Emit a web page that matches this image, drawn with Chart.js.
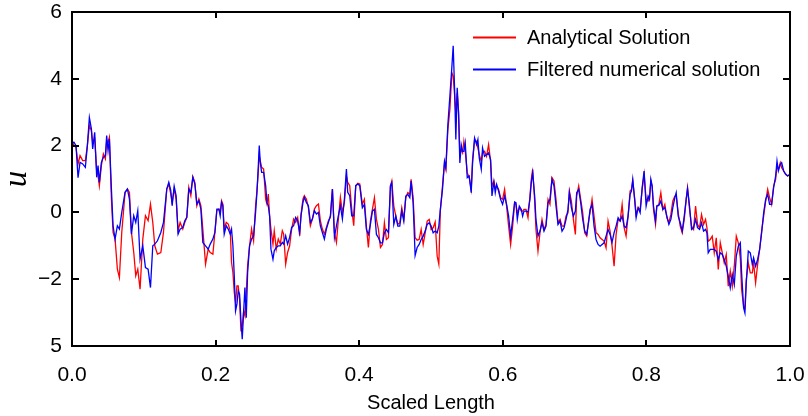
<!DOCTYPE html>
<html>
<head>
<meta charset="utf-8">
<script src="https://cdn.jsdelivr.net/npm/chart.js@4.4.1/dist/chart.umd.min.js"></script>
<style>
  html, body { margin: 0; padding: 0; background: #ffffff; }
  canvas { display: block; }
</style>
</head>
<body>
<canvas id="c" width="808" height="416"></canvas>
<script>
const xValues = [
  0.0000,0.0028,0.0056,0.0084,0.0112,0.0149,0.0186,0.0214,0.0242,0.0270,0.0288,0.0316,0.0344,0.0363,0.0381,0.0409,0.0437,0.0465,0.0483,0.0502,0.0521,0.0549,0.0572,0.0600,0.0632,0.0660,0.0693,0.0739,0.0772,0.0800,0.0828,0.0860,0.0888,0.0916,0.0948,0.0986,0.1023,0.1060,0.1093,0.1125,0.1153,0.1190,0.1237,0.1274,0.1320,0.1348,0.1376,0.1395,0.1423,0.1450,0.1478,0.1506,0.1543,0.1571,0.1599,0.1627,0.1655,0.1683,0.1711,0.1739,0.1767,0.1795,0.1822,0.1860,0.1897,0.1925,0.1962,0.1990,
  0.2018,0.2046,0.2064,0.2083,0.2101,0.2120,0.2148,0.2176,0.2204,0.2222,0.2241,0.2260,0.2278,0.2297,0.2315,0.2334,0.2352,0.2371,0.2390,0.2408,0.2427,0.2446,0.2473,0.2501,0.2529,0.2557,0.2576,0.2594,0.2608,0.2622,0.2641,0.2669,0.2697,0.2715,0.2734,0.2752,0.2771,0.2799,0.2817,0.2845,0.2873,0.2901,0.2929,0.2948,0.2976,0.3003,0.3031,0.3059,0.3087,0.3115,0.3143,0.3171,0.3190,0.3217,0.3236,0.3264,0.3292,0.3320,0.3348,0.3376,0.3404,0.3432,0.3459,0.3487,0.3515,0.3543,0.3571,0.3599,0.3627,0.3655,0.3683,0.3710,0.3738,0.3766,0.3794,0.3822,0.3840,0.3868,0.3896,0.3924,0.3952,0.3980,0.4008,
  0.4044,0.4072,0.4100,0.4128,0.4156,0.4184,0.4212,0.4240,0.4268,0.4296,0.4324,0.4351,0.4379,0.4407,0.4435,0.4454,0.4482,0.4510,0.4538,0.4565,0.4593,0.4621,0.4649,0.4677,0.4705,0.4723,0.4751,0.4779,0.4807,0.4835,0.4863,0.4891,0.4919,0.4947,0.4975,0.5002,0.5030,0.5058,0.5086,0.5109,0.5130,0.5160,0.5188,0.5207,0.5235,0.5263,0.5291,0.5309,0.5328,0.5346,0.5365,0.5384,0.5402,0.5421,0.5440,0.5458,0.5477,0.5505,0.5532,0.5560,0.5579,0.5607,0.5635,0.5653,0.5672,0.5700,0.5718,0.5746,0.5774,0.5802,0.5830,0.5849,0.5876,0.5895,0.5914,0.5941,0.5969,0.5997,0.6025,
  0.6053,0.6081,0.6109,0.6137,0.6165,0.6183,0.6202,0.6230,0.6258,0.6276,0.6295,0.6323,0.6351,0.6378,0.6397,0.6416,0.6444,0.6462,0.6490,0.6518,0.6546,0.6574,0.6602,0.6630,0.6657,0.6685,0.6713,0.6741,0.6769,0.6797,0.6825,0.6853,0.6881,0.6908,0.6927,0.6955,0.6983,0.7011,0.7029,0.7057,0.7085,0.7113,0.7141,0.7169,0.7197,0.7215,0.7243,0.7271,0.7299,0.7327,0.7355,0.7383,0.7411,0.7438,0.7466,0.7494,0.7522,0.7550,0.7578,0.7606,0.7634,0.7662,0.7690,0.7717,0.7745,0.7773,0.7792,0.7810,0.7838,0.7857,0.7885,0.7913,0.7941,0.7968,0.7996,0.8024,
  0.8043,0.8062,0.8080,0.8099,0.8127,0.8145,0.8173,0.8201,0.8229,0.8257,0.8285,0.8313,0.8341,0.8368,0.8396,0.8415,0.8443,0.8471,0.8499,0.8527,0.8554,0.8573,0.8601,0.8629,0.8657,0.8685,0.8712,0.8740,0.8768,0.8796,0.8824,0.8843,0.8861,0.8889,0.8917,0.8945,0.8973,0.9001,0.9029,0.9057,0.9084,0.9112,0.9140,0.9168,0.9196,0.9224,0.9252,0.9280,0.9308,0.9326,0.9354,0.9372,0.9391,0.9419,0.9447,0.9475,0.9493,0.9521,0.9549,0.9577,0.9605,0.9633,0.9661,0.9689,0.9716,0.9744,0.9772,0.9800,0.9819,0.9838,0.9865,0.9884,0.9912,0.9940,0.9967,1.0000
];

const analytical = [
  2.15,2.0,1.95,1.45,1.7,1.55,1.55,2.0,2.6,2.45,2.1,2.2,1.25,1.1,0.8,1.4,1.75,1.6,2.15,2.1,2.25,0.4,-0.6,-0.8,-1.7,-1.95,-0.6,0.6,0.7,0.6,-0.6,-1.2,-1.9,-1.7,-2.3,-0.8,-0.1,-0.25,0.25,-0.3,-1.0,-1.25,-1.2,-0.6,0.7,0.85,0.55,0.3,0.7,0.4,-0.55,-0.3,-0.5,-0.3,-0.15,0.75,0.5,1.07,0.9,0.2,0.4,0.2,-0.5,-1.55,-1.1,-1.2,-1.25,-0.6,
  0.07,0.1,0.0,0.35,0.25,-0.5,-0.3,-0.35,-0.55,-1.5,-1.8,-2.4,-2.7,-2.2,-2.2,-2.6,-3.5,-3.4,-2.95,-3.1,-2.4,-1.6,-1.0,-0.5,-0.85,0.2,0.65,1.2,1.7,1.55,1.35,1.3,0.4,0.25,0.55,-0.1,-0.5,-0.95,-0.55,-1.1,-0.8,-0.95,-0.55,-0.65,-1.55,-1.2,-1.0,-0.5,-0.2,-0.3,-0.15,-0.7,-0.05,0.4,0.5,0.4,0.15,-0.4,-0.2,0.1,0.2,0.25,-0.25,-0.5,-0.65,-0.45,-0.25,-0.15,0.7,-0.6,-0.9,-0.2,0.45,0.0,0.3,1.1,0.9,0.8,0.1,-0.4,0.8,0.87,0.85,
  0.24,0.39,-0.41,-1.05,-0.26,0.09,0.44,-0.21,-0.51,-1.05,-0.96,-0.31,-0.81,-0.76,0.79,0.94,0.19,-0.11,-0.36,-0.31,0.14,-0.21,0.44,0.59,0.54,0.99,0.44,-0.76,-0.83,-0.81,-0.51,-0.96,-0.61,-0.26,-0.21,-0.51,-0.46,-0.29,-1.31,-1.55,0.04,0.79,1.48,1.29,2.48,3.08,4.18,4.08,3.53,2.98,3.58,3.03,1.73,1.88,1.78,2.13,1.83,1.19,1.04,0.69,1.58,2.18,2.13,1.93,1.73,1.53,1.78,1.83,1.68,2.03,1.53,0.79,0.94,0.74,0.79,0.69,0.44,0.39,0.69,
  0.19,-0.41,-0.96,-0.41,0.29,0.24,-0.01,0.14,0.04,0.04,0.09,0.09,-0.16,0.49,0.99,1.29,0.34,-0.51,-1.16,-0.61,-0.21,-0.51,-0.36,0.39,0.24,1.04,0.94,0.39,-0.31,-0.21,-0.41,-0.41,-0.11,-0.01,0.64,0.34,-0.21,-0.66,0.49,0.79,0.39,-0.01,-0.61,-0.71,-0.21,-0.01,0.39,-0.11,-0.61,-0.66,-0.76,-0.81,-0.86,-1.06,-0.26,-0.56,-1.01,-1.61,-0.66,-0.21,-0.26,0.24,-0.46,-0.71,-0.11,0.64,0.69,0.94,0.39,-0.06,0.14,0.09,0.69,1.14,0.39,0.34,
  0.44,0.94,0.79,0.09,-0.36,0.19,0.24,0.59,0.09,0.24,-0.16,-0.31,-0.06,0.34,0.49,0.49,-0.01,-0.41,-0.61,-0.21,0.39,0.74,0.09,-0.41,-0.51,0.19,-0.36,-0.46,-0.06,-0.36,-0.21,-0.46,-0.86,-0.81,-0.71,-1.21,-0.76,-1.71,-0.91,-1.21,-1.51,-1.26,-2.21,-1.76,-2.21,-1.61,-0.71,-0.91,-1.36,-2.31,-2.81,-2.86,-2.01,-1.51,-1.81,-1.81,-1.51,-2.11,-1.56,-1.11,-0.56,-0.11,0.34,0.69,0.44,0.24,0.79,0.99,1.39,1.29,1.49,1.34,1.24,1.14,1.09,1.14
];

const filtered = [
  2.09,2.1,2.0,1.04,1.5,1.45,1.35,2.0,2.84,2.5,1.9,2.4,1.05,1.4,0.9,1.5,1.65,1.7,2.3,1.85,2.2,0.7,-0.4,-0.8,-0.4,-0.5,0.0,0.6,0.7,0.4,-0.65,-0.1,-0.3,0.05,-1.4,-1.0,-1.65,-1.7,-2.25,-1.0,-0.95,-0.85,-0.6,-0.3,0.7,0.9,0.65,0.2,0.78,0.5,-0.65,-0.5,-0.45,-0.25,-0.15,0.7,0.6,1.05,0.85,0.25,0.35,0.1,-0.9,-1.0,-1.1,-0.95,-0.8,-0.6,
  0.1,0.1,-0.1,0.3,0.2,-0.65,-0.4,-0.5,-0.65,-0.5,-1.0,-1.9,-2.95,-2.75,-2.35,-2.45,-3.2,-3.8,-3.0,-2.25,-3.15,-1.8,-1.0,-0.8,-0.7,0.0,0.6,1.35,2.0,1.5,1.2,1.2,0.8,0.3,0.2,-0.1,-1.1,-1.4,-1.15,-1.05,-1.0,-1.0,-0.9,-0.95,-0.7,-0.95,-0.75,-0.45,-0.4,-0.15,-0.25,-0.6,-0.1,0.3,0.45,0.3,0.2,-0.3,-0.2,0.05,-0.05,0.0,-0.4,-0.6,-0.8,-0.5,-0.3,-0.1,0.7,-0.75,-0.4,-0.1,0.2,-0.2,0.4,1.3,0.6,0.5,-0.1,-0.1,0.8,0.85,0.8,
  0.14,0.24,-0.51,-0.66,-0.36,0.04,0.09,-0.66,-0.76,-0.91,-0.91,-0.61,-0.51,-0.61,0.79,0.89,-0.36,-0.11,-0.41,-0.41,0.04,-0.26,0.49,0.54,0.44,0.94,0.29,-1.29,-1.05,-0.96,-0.81,-0.71,-0.56,-0.36,-0.31,-0.41,-0.61,-0.56,-0.61,-0.41,0.09,0.69,1.53,1.34,2.63,3.48,4.37,4.99,3.73,2.18,3.73,2.93,1.48,2.03,1.83,1.83,2.08,1.04,1.09,0.59,1.48,2.23,2.03,2.18,1.63,1.29,1.93,1.68,1.73,1.78,1.58,0.49,0.91,0.59,0.84,0.64,0.39,0.24,0.49,
  0.24,-0.11,-0.71,-0.21,0.31,0.29,-0.21,0.19,0.09,-0.11,0.04,0.04,0.01,0.39,0.89,1.19,0.49,-0.21,-0.71,-0.56,-0.31,-0.56,-0.41,0.29,0.39,0.99,0.79,0.19,-0.36,-0.26,-0.56,-0.46,-0.21,0.09,0.59,0.14,-0.11,0.04,0.59,0.69,0.29,-0.21,-0.56,-0.66,-0.26,0.09,0.24,-0.41,-0.81,-0.96,-1.01,-0.96,-0.91,-0.71,-0.51,-0.66,-0.89,-0.61,-0.41,-0.16,-0.26,-0.11,-0.41,-0.46,-0.11,0.54,0.64,0.99,0.34,-0.16,0.14,-0.01,0.74,1.24,0.19,0.49,
  0.39,0.99,0.79,0.19,-0.26,0.19,0.21,0.34,0.09,0.14,-0.11,-0.36,-0.21,0.14,0.44,0.59,-0.11,-0.31,-0.56,-0.11,0.39,0.71,0.19,-0.51,-0.46,-0.21,-0.46,-0.51,-0.31,-0.56,-0.51,-0.61,-1.21,-1.11,-1.11,-1.11,-1.16,-1.41,-1.21,-1.26,-1.41,-1.61,-1.91,-2.26,-1.86,-2.16,-1.31,-1.01,-0.91,-1.81,-2.86,-3.01,-2.11,-1.16,-1.21,-1.56,-1.36,-1.61,-1.41,-1.11,-0.61,-0.01,0.39,0.54,0.24,0.24,0.74,1.09,1.54,1.24,1.44,1.49,1.24,1.14,1.09,1.14
];

const xTicks = [0, 0.2, 0.4, 0.6, 0.8, 1.0];
const xTickLabels = ['0.0', '0.2', '0.4', '0.6', '0.8', '1.0'];
const yTicks = [-4, -2, 0, 2, 4, 6];
const yTickLabels = ['5', '\u22122', '0', '2', '4', '6'];
const seriesLabels = ['Analytical Solution', 'Filtered numerical solution'];
const seriesColors = ['#ff0000', '#0000ff'];

const SANS = '"Liberation Sans", Arial, Helvetica, sans-serif';
Chart.defaults.font.family = SANS;
Chart.defaults.color = '#000000';

const framePlugin = {
  id: 'frame',
  afterDraw(chart) {
    const ctx = chart.ctx;
    const {left, right, top, bottom} = chart.chartArea;
    const xs = chart.scales.x, ys = chart.scales.y;
    ctx.save();
    ctx.strokeStyle = '#000000';
    ctx.lineWidth = 2;
    ctx.strokeRect(left, top, right - left, bottom - top);
    ctx.beginPath();
    xTicks.forEach(v => {
      const px = Math.round(xs.getPixelForValue(v));
      ctx.moveTo(px, bottom); ctx.lineTo(px, bottom - 6);
      ctx.moveTo(px, top); ctx.lineTo(px, top + 6);
    });
    yTicks.forEach(v => {
      const py = Math.round(ys.getPixelForValue(v));
      ctx.moveTo(left, py); ctx.lineTo(left + 7, py);
      ctx.moveTo(right, py); ctx.lineTo(right - 7, py);
    });
    ctx.stroke();

    // legend
    ctx.font = '20px ' + SANS;
    ctx.textBaseline = 'middle';
    ctx.textAlign = 'left';
    const rows = [38, 70];
    chart.data.datasets.forEach((ds, i) => {
      const y = rows[i];
      ctx.strokeStyle = ds.borderColor;
      ctx.lineWidth = 2;
      ctx.beginPath();
      ctx.moveTo(473, y - 0.5); ctx.lineTo(516, y - 0.5);
      ctx.stroke();
      ctx.fillStyle = '#000000';
      ctx.fillText(ds.label, 527, y + 0.5);
    });
    ctx.restore();
  }
};

new Chart(document.getElementById('c'), {
  type: 'line',
  data: {
    datasets: [
      {
        label: seriesLabels[0],
        data: xValues.map((x, i) => ({x: x, y: analytical[i]})),
        borderColor: seriesColors[0],
        backgroundColor: seriesColors[0],
        borderWidth: 1.3,
        pointRadius: 0,
        tension: 0,
        fill: false,
        order: 2
      },
      {
        label: seriesLabels[1],
        data: xValues.map((x, i) => ({x: x, y: filtered[i]})),
        borderColor: seriesColors[1],
        backgroundColor: seriesColors[1],
        borderWidth: 1.3,
        pointRadius: 0,
        tension: 0,
        fill: false,
        order: 1
      }
    ]
  },
  options: {
    responsive: false,
    animation: false,
    events: [],
    layout: { padding: { top: 12, right: 18, left: 0, bottom: 0 } },
    plugins: { legend: { display: false }, tooltip: { enabled: false } },
    scales: {
      x: {
        type: 'linear',
        min: 0, max: 1,
        afterBuildTicks(scale) { scale.ticks = xTicks.map(v => ({value: v})); },
        afterFit(scale) { scale.height = 70; scale.paddingLeft = 0; scale.paddingRight = 0; },
        ticks: {
          callback: (v) => xTickLabels[xTicks.findIndex(t => Math.abs(t - v) < 1e-9)],
          font: { size: 21, lineHeight: 1.1 },
          color: '#000000',
          padding: 18,
          maxRotation: 0,
          autoSkip: false
        },
        grid: { display: false, drawTicks: false },
        border: { display: false },
        title: {
          display: true,
          text: 'Scaled Length',
          font: { size: 20, lineHeight: 1.2 },
          color: '#000000',
          padding: { top: 0, bottom: 1 }
        }
      },
      y: {
        type: 'linear',
        min: -4, max: 6,
        afterBuildTicks(scale) { scale.ticks = yTicks.map(v => ({value: v})); },
        afterFit(scale) { scale.width = 72; scale.paddingTop = 0; scale.paddingBottom = 0; },
        ticks: {
          callback: (v) => yTickLabels[yTicks.findIndex(t => Math.abs(t - v) < 1e-9)],
          font: { size: 21, lineHeight: 1.1 },
          color: '#000000',
          padding: 10,
          autoSkip: false
        },
        grid: { display: false, drawTicks: false },
        border: { display: false },
        title: {
          display: true,
          text: 'u',
          font: { family: '"Liberation Serif", "Times New Roman", serif', style: 'italic', size: 33, lineHeight: 1.0 },
          color: '#000000',
          padding: { top: 1, bottom: 0 }
        }
      }
    }
  },
  plugins: [framePlugin]
});
</script>
</body>
</html>
